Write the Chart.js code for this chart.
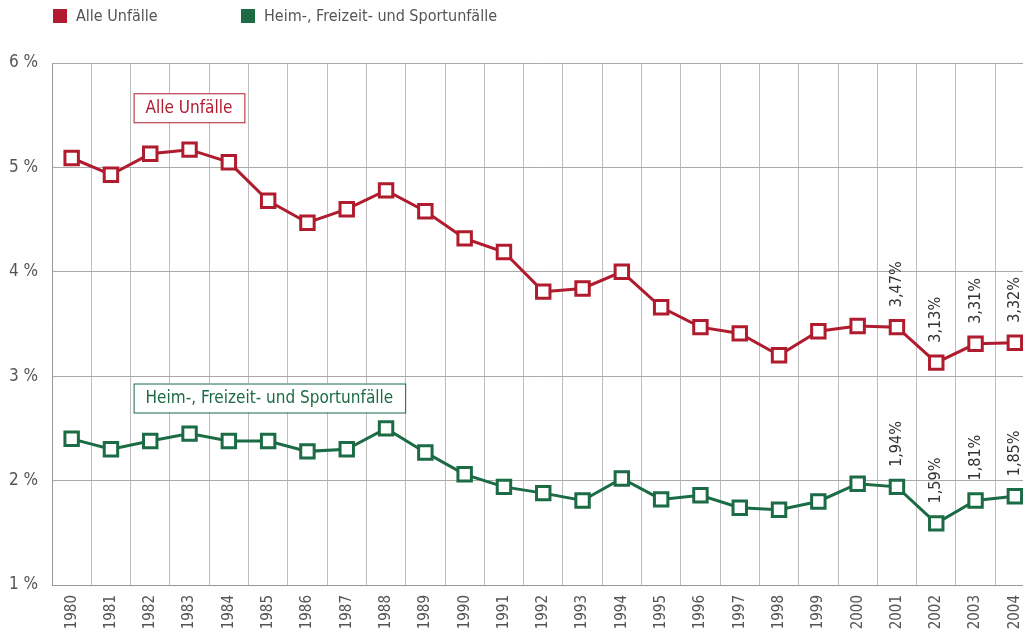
<!DOCTYPE html>
<html>
<head>
<meta charset="utf-8">
<script src="https://cdn.jsdelivr.net/npm/chart.js@4"></script>
<style>
html, body { margin:0; padding:0; background:#fff; overflow:hidden; width:1023px; height:631px; }
#wrap { position:relative; width:1023px; height:631px; overflow:hidden; }
#chart { position:absolute; left:0; top:0; }
.leg { position:absolute; top:6px; font:16px "Liberation Sans Narrow","DejaVu Sans Condensed",sans-serif; color:#555; }
.leg span { display:inline-block; width:14px; height:14px; vertical-align:-2px; margin-right:9px; }
</style>
</head>
<body>
<div id="wrap">
  <canvas id="chart" width="1047" height="631"></canvas>
  <div class="leg" style="left:53px"><span style="background:#b01b2e"></span>Alle Unfälle</div>
  <div class="leg" style="left:241px"><span style="background:#1b6b45"></span>Heim-, Freizeit- und Sportunfälle</div>
</div>
<script>
const FONT = '"Liberation Sans Narrow","DejaVu Sans Condensed",sans-serif'

// Daten
const years = ['1980','1981','1982','1983','1984','1985','1986','1987','1988','1989','1990','1991','1992',
               '1993','1994','1995','1996','1997','1998','1999','2000','2001','2002','2003','2004']
const alleUnfaelle = [5.09,4.93,5.13,5.17,5.05,4.68,4.47,4.60,4.78,4.58,4.32,4.19,3.81,
                      3.84,4.00,3.66,3.47,3.41,3.20,3.43,3.48,3.47,3.13,3.31,3.32]
const heimFreizeit = [2.40,2.30,2.38,2.45,2.38,2.38,2.28,2.30,2.50,2.27,2.06,1.94,1.88,
                      1.81,2.02,1.82,1.86,1.74,1.72,1.80,1.97,1.94,1.59,1.81,1.85]
const yTicks = [1,2,3,4,5,6]
// Jahre mit Wertbeschriftung
const labelYears = ['2001','2002','2003','2004']

const RED = '#b01b2e'
const GREEN = '#1b6b45'

// Beschriftete Kästen im Diagramm
const boxes = [
  {text:'Alle Unfälle', color:RED, atIndex:1.5, atValue:5.71},
  {text:'Heim-, Freizeit- und Sportunfälle', color:GREEN, atIndex:1.5, atValue:2.93}
]

const boxPlugin = {
  id:'boxes',
  beforeDatasetsDraw(chart){
    const {ctx, scales:{x, y}} = chart
    const step = x.getPixelForValue(1) - x.getPixelForValue(0)
    ctx.save()
    ctx.font = '17px ' + FONT
    boxes.forEach(b=>{
      const left = x.getPixelForValue(0) + step*b.atIndex + 3
      const top = y.getPixelForValue(b.atValue)
      const w = ctx.measureText(b.text).width + 24
      const h = 29
      ctx.fillStyle = '#fff'
      ctx.fillRect(left, top, w, h)
      ctx.strokeStyle = b.color
      ctx.lineWidth = 1
      ctx.strokeRect(left+0.5, top+0.5, w, h)
      ctx.fillStyle = b.color
      ctx.textBaseline = 'middle'
      ctx.fillText(b.text, left+12, top+h/2+1)
    })
    ctx.restore()
  }
}

const valuePlugin = {
  id:'values',
  afterDatasetsDraw(chart){
    const {ctx} = chart
    ctx.save()
    ctx.font = '16px ' + FONT
    ctx.fillStyle = '#333'
    ctx.textAlign = 'left'
    ctx.textBaseline = 'middle'
    chart.data.datasets.forEach((ds,di)=>{
      const meta = chart.getDatasetMeta(di)
      labelYears.forEach(yr=>{
        const i = years.indexOf(yr)
        const pt = meta.data[i]
        const txt = ds.data[i].toFixed(2).replace('.', ',') + '%'
        ctx.save()
        ctx.translate(pt.x, pt.y - 20)
        ctx.rotate(-Math.PI/2)
        ctx.fillText(txt, 0, 0)
        ctx.restore()
      })
    })
    ctx.restore()
  }
}

new Chart(document.getElementById('chart'), {
  type:'line',
  data:{
    labels:years,
    datasets:[
      {label:'Alle Unfälle', data:alleUnfaelle, borderColor:RED, backgroundColor:'#fff',
       borderWidth:3, pointStyle:'rect', pointRadius:9.5, pointBorderWidth:3, pointBorderColor:RED,
       pointBackgroundColor:'#fff'},
      {label:'Heim-, Freizeit- und Sportunfälle', data:heimFreizeit, borderColor:GREEN, backgroundColor:'#fff',
       borderWidth:3, pointStyle:'rect', pointRadius:9.5, pointBorderWidth:3, pointBorderColor:GREEN,
       pointBackgroundColor:'#fff'}
    ]
  },
  options:{
    responsive:false,
    animation:false,
    events:[],
    layout:{padding:{top:63, right:6, left:0, bottom:0}},
    plugins:{legend:{display:false}, tooltip:{enabled:false}},
    scales:{
      x:{
        offset:true,
        afterFit(s){ s.height = 46 },
        grid:{offset:true, color:'#bdbdbd', lineWidth:1, drawTicks:false},
        border:{color:'#999', width:1},
        ticks:{font:{family:FONT, size:15}, color:'#555', minRotation:90, maxRotation:90, padding:10, autoSkip:false}
      },
      y:{
        min:yTicks[0], max:yTicks[yTicks.length-1],
        afterFit(s){ s.width = 52 },
        afterBuildTicks(s){ s.ticks = yTicks.map(v=>({value:v})) },
        grid:{color:'#a8a8a8', lineWidth:1, drawTicks:false},
        border:{color:'#999', width:1},
        ticks:{font:{family:FONT, size:17}, color:'#555', padding:14, callback:v=>v+' %'}
      }
    }
  },
  plugins:[boxPlugin, valuePlugin]
})
</script>
</body>
</html>
